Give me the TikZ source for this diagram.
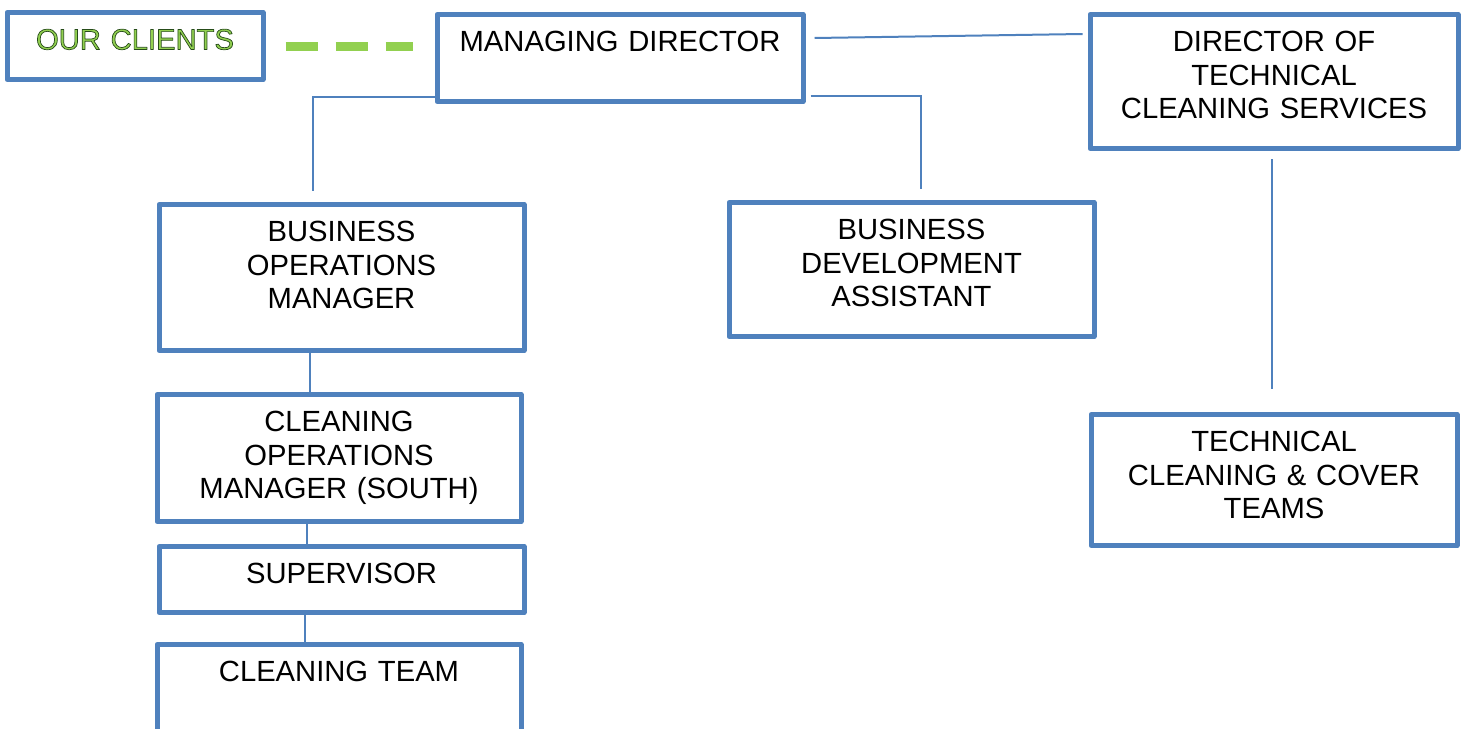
\documentclass[tikz,border=0pt]{standalone}
\usepackage{fontspec}
\setmainfont{Liberation Sans}
\usepackage{tikz}
\definecolor{boxblue}{RGB}{79,129,189}
\definecolor{clientgreen}{RGB}{146,208,80}
\newcommand{\outlined}[1]{\special{pdf:literal direct 2 Tr 0.15 0.3 0.1 RG 0.35 w}#1\special{pdf:literal direct 0 Tr}}

\begin{document}
\begin{tikzpicture}[x=0.5pt,y=-0.5pt,
    post/.style={draw=boxblue,line width=2.5pt,line join=round,inner sep=0pt,anchor=north,
      align=center,text height=18.5pt,font=\fontsize{14.6}{16.8}\selectfont},
    link/.style={draw=boxblue,line width=1pt},
    tie/.style={draw=clientgreen,line width=4.5pt,dash pattern=on 16pt off 9pt}]
    \useasboundingbox (0,0) rectangle (1465,728);
    \node[post,text width=128pt,text depth=15pt,text=clientgreen] (oc) at (135,10) {\outlined{OUR CLIENTS}};
    \node[post,text width=183pt,text depth=25pt] (md) at (620,12) {MANAGING DIRECTOR};
    \node[post,text width=184pt,text depth=48.5pt] (dt) at (1274,12) {DIRECTOR OF\\TECHNICAL\\CLEANING SERVICES};
    \node[post,text width=182.5pt,text depth=54.5pt] (bo) at (341.5,202) {BUSINESS\\OPERATIONS\\MANAGER};
    \node[post,text width=182.5pt,text depth=48.5pt] (bd) at (911.5,200) {BUSINESS\\DEVELOPMENT\\ASSISTANT};
    \node[post,text width=182pt,text depth=45pt] (co) at (339,392) {CLEANING\\OPERATIONS\\MANAGER (SOUTH)};
    \node[post,text width=182.5pt,text depth=14.5pt] (su) at (341.5,544) {SUPERVISOR};
    \node[post,text width=182pt,text depth=30.5pt] (ct) at (339,642) {CLEANING TEAM};
    \node[post,text width=183pt,text depth=47pt] (tc) at (1274,412) {TECHNICAL\\CLEANING \& COVER\\TEAMS};
    \draw[tie] ([xshift=10pt]oc.east) -- ([xshift=-11pt]md.west |- oc.east);
    \draw[link] ([xshift=4.5pt,yshift=-13pt]md.north east) -- ([xshift=-2.5pt,yshift=-11pt]dt.north west);
    \draw[link] ([yshift=3.5pt]md.south west) -| ([xshift=-14.25pt,yshift=5.5pt]bo.north);
    \draw[link] ([xshift=2.5pt,yshift=4pt]md.south east) -| ([xshift=4.75pt,yshift=5.5pt]bd.north);
    \draw[link] ([xshift=-1pt,yshift=-4pt]dt.south) -- ([xshift=-1pt,yshift=11.5pt]tc.north);
    \draw[link] ([xshift=-15.75pt]bo.south) -- ([xshift=-14.5pt]co.north);
    \draw[link] ([xshift=-16pt]co.south) -- ([xshift=-17.25pt]su.north);
    \draw[link] ([xshift=-18.25pt]su.south) -- ([xshift=-17pt]ct.north);
\end{tikzpicture}
\end{document}
